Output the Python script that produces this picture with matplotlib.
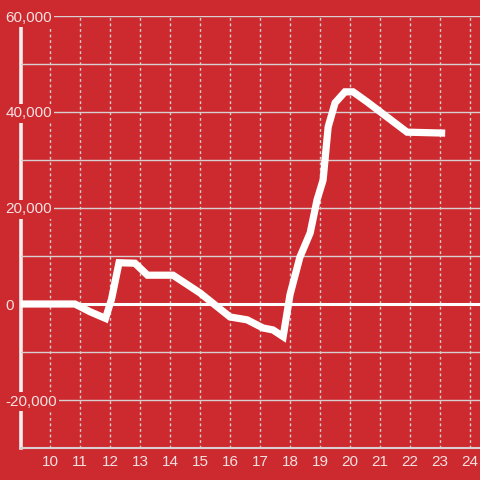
import matplotlib.pyplot as plt

# data
hours = [9.0, 10.83, 11.33, 11.85, 12.05, 12.3, 12.83, 13.25, 14.1, 15.0,
         16.0, 16.57, 17.1, 17.43, 17.77, 18.0, 18.33, 18.67, 18.9, 19.1,
         19.27, 19.5, 19.83, 20.1, 20.57, 21.9, 23.17]
values = [0, 0, -1600, -3000, 1000, 8600, 8500, 6000, 6000, 2300,
          -2700, -3300, -5000, -5400, -6800, 2000, 9800, 14800, 21700, 25800,
          36900, 41900, 44200, 44200, 42100, 35800, 35600]

xticks = list(range(10, 25))
yticks = [-20000, 0, 20000, 40000, 60000]
ylabels = ['-20,000', '0', '20,000', '40,000', '60,000']
yminor = [-30000, -10000, 10000, 30000, 50000]

red = '#cc2a2f'
txt = '#f5e1e1'
grid = '#d8d0d0'

plt.rcParams['font.family'] = ['Liberation Sans', 'DejaVu Sans']

fig = plt.figure(figsize=(4.8, 4.8), dpi=100, facecolor=red)
ax = fig.add_axes([20.5 / 480, 32 / 480, 459.5 / 480, 432 / 480])
ax.set_facecolor(red)

ax.plot(hours, values, color='white', lw=5.2, solid_joinstyle='miter',
        solid_capstyle='butt', zorder=4)
ax.axhline(0, color='white', lw=2.2, zorder=3)

ax.set_xlim(9.017, 24.33)
ax.set_ylim(-30000, 60000)

ax.set_xticks(xticks)
ax.set_yticks(yticks, ylabels)
ax.set_yticks(yminor, minor=True)

ax.grid(axis='y', which='both', color=grid, lw=1)
ax.grid(axis='x', color=grid, lw=1, linestyle=(0, (2, 2)))

ax.tick_params(axis='both', which='both', length=0, colors=txt, labelsize=11)
ax.tick_params(axis='y', pad=11)
ax.tick_params(axis='x', pad=5)
for lab in ax.get_yticklabels():
    lab.set_horizontalalignment('left')
    lab.set_bbox(dict(facecolor=red, edgecolor='none', pad=1.5))

for s in ['top', 'right']:
    ax.spines[s].set_visible(False)
ax.spines['left'].set_color('#f2eeee')
ax.spines['left'].set_linewidth(2.6)
ax.spines['left'].set_zorder(1)
ax.spines['bottom'].set_color(grid)
ax.spines['bottom'].set_linewidth(1.5)

plt.savefig('out.png', facecolor=red)
